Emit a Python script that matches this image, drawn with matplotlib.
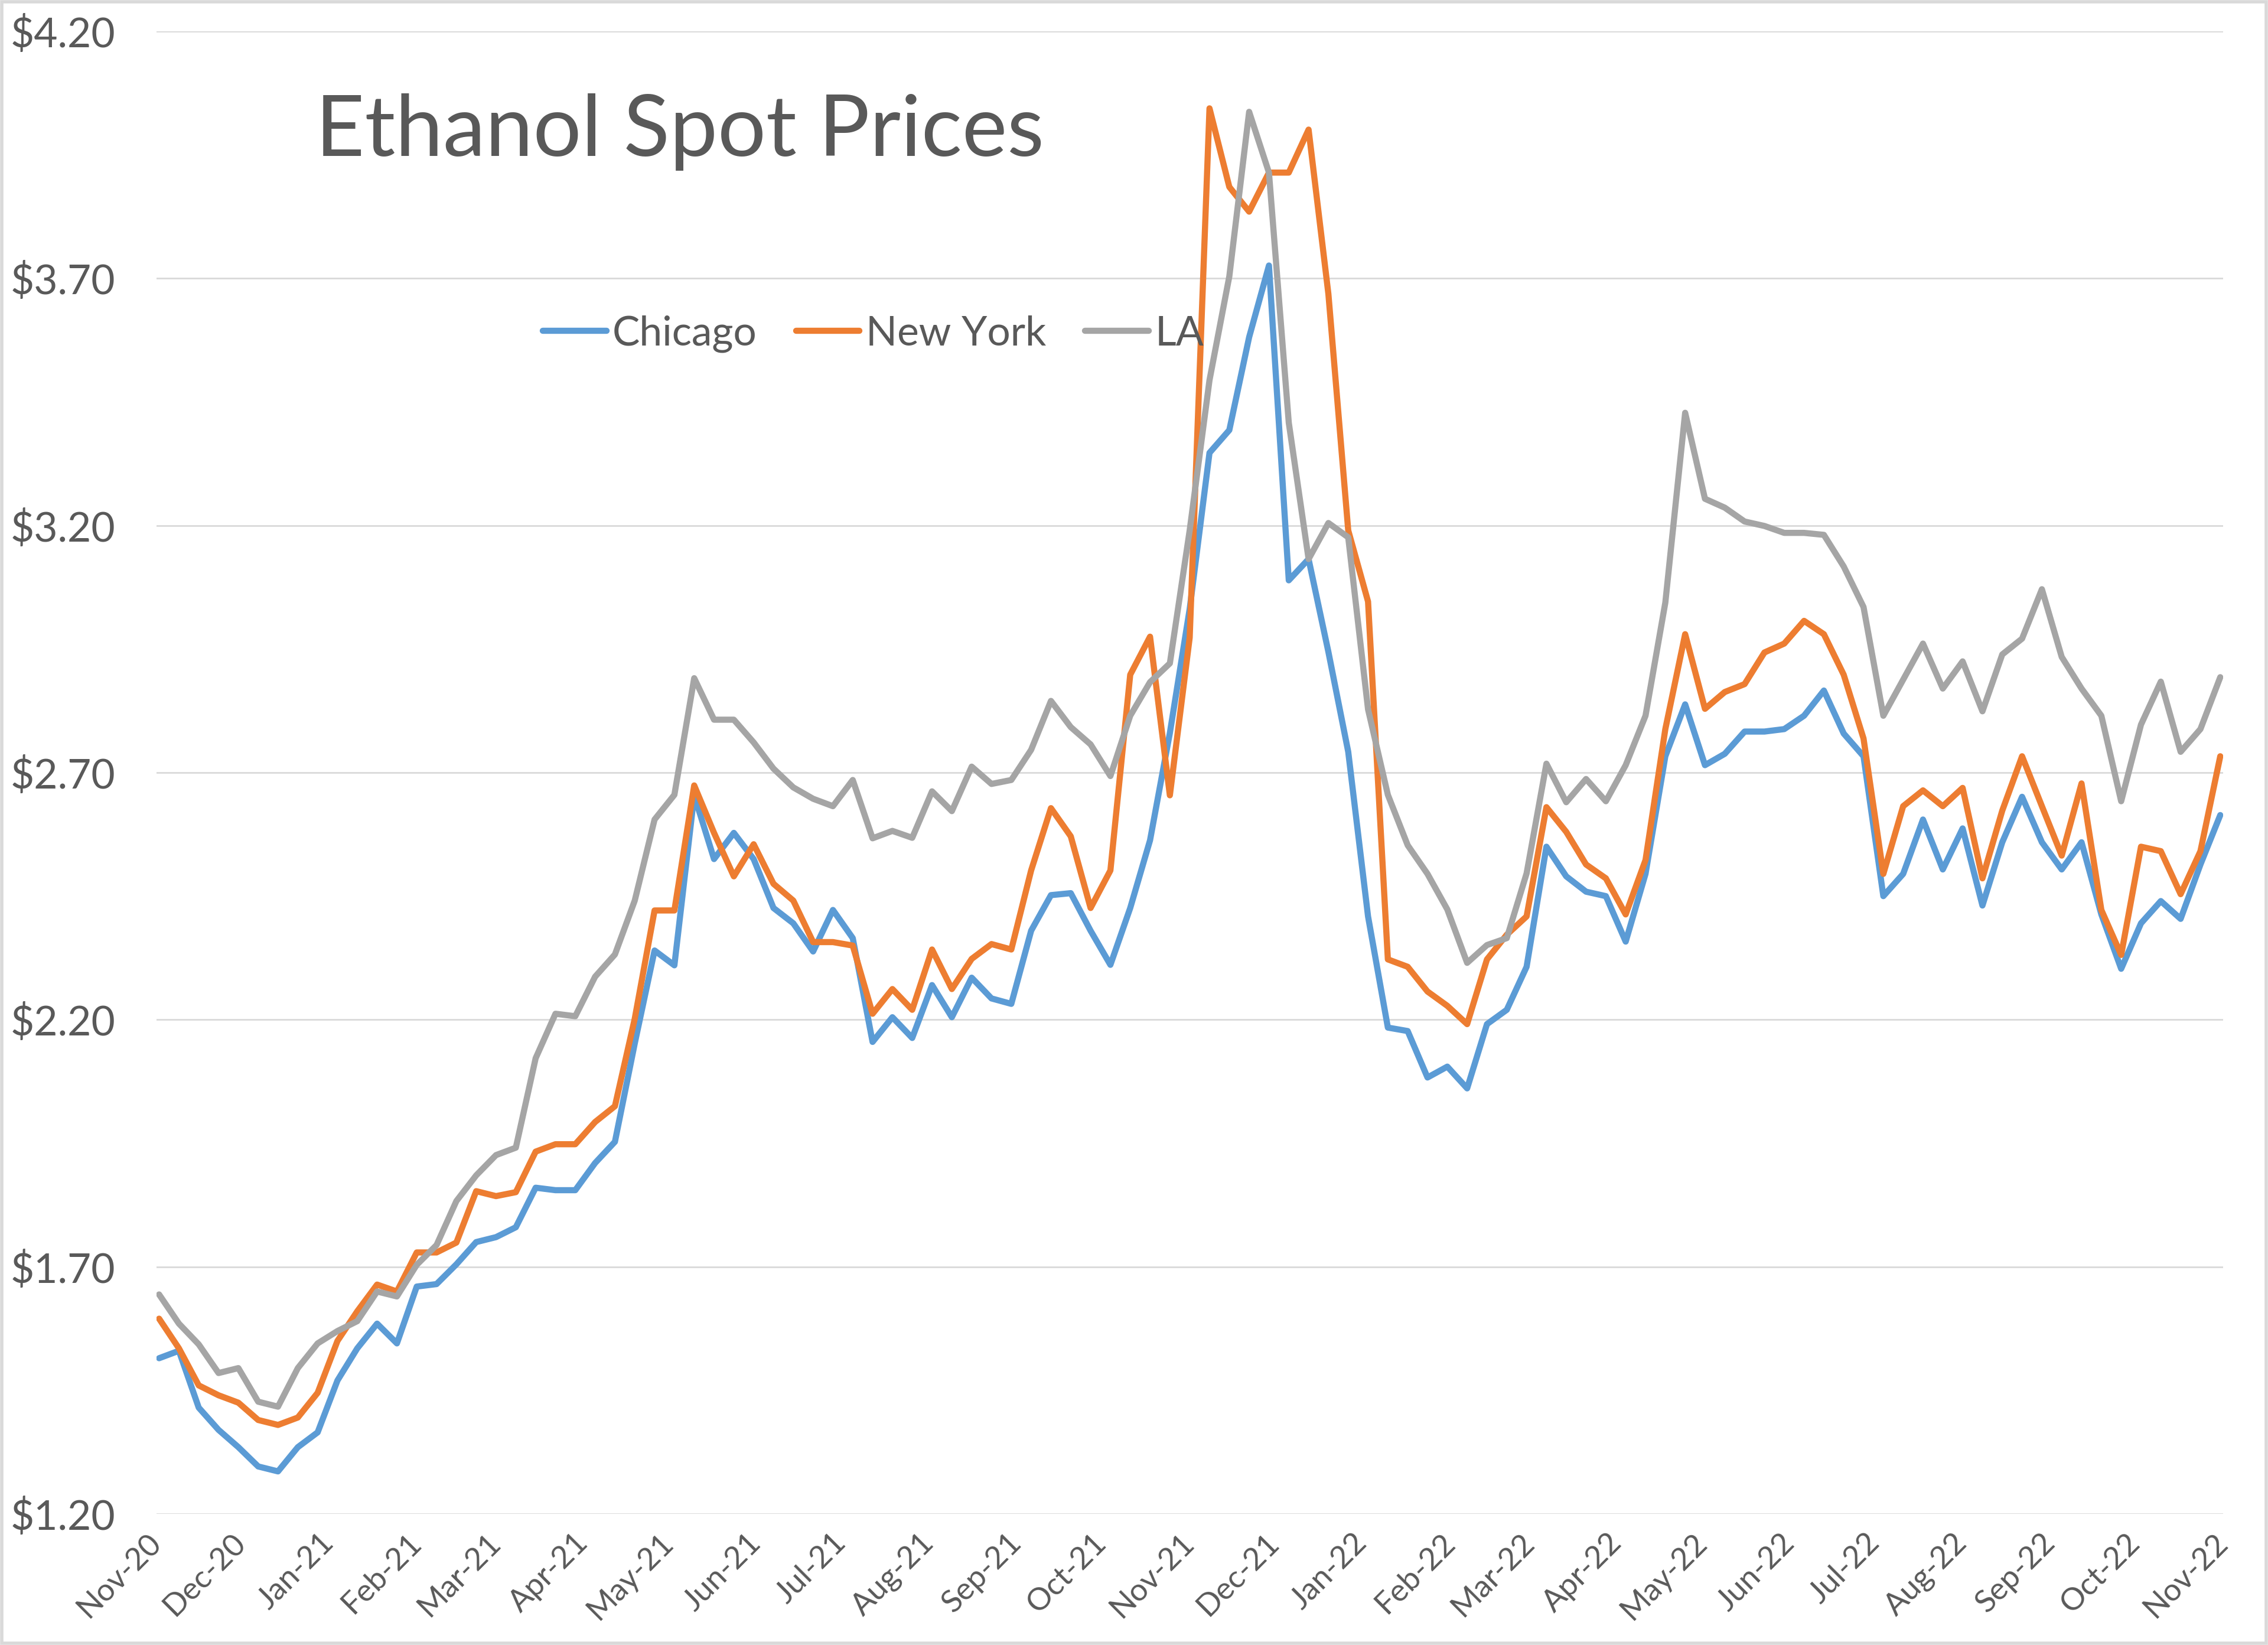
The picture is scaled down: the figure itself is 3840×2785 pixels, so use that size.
import matplotlib
matplotlib.use("Agg")
import matplotlib.pyplot as plt
import matplotlib.dates as mdates
from matplotlib.ticker import FuncFormatter
from matplotlib.patches import Rectangle
import pandas as pd

# ---------------- data (weekly readings) ----------------
start_date = "2020-11-02"
n_weeks = 105

chicago = [1.515, 1.53, 1.415, 1.37, 1.335, 1.296, 1.286, 1.335, 1.365, 1.47,
           1.535, 1.585, 1.545, 1.66, 1.665, 1.705, 1.75, 1.76, 1.78, 1.86,
           1.855, 1.855, 1.91, 1.953, 2.152, 2.34, 2.31, 2.654, 2.525, 2.578,
           2.525, 2.426, 2.395, 2.338, 2.422, 2.365, 2.155, 2.205, 2.163, 2.27,
           2.205, 2.285, 2.243, 2.232, 2.38, 2.452, 2.456, 2.38, 2.311, 2.426,
           2.563, 2.78, 3.031, 3.347, 3.393, 3.581, 3.726, 3.089, 3.132, 2.944,
           2.742, 2.409, 2.184, 2.177, 2.083, 2.105, 2.061, 2.191, 2.22, 2.307,
           2.55, 2.49, 2.459, 2.45, 2.358, 2.495, 2.733, 2.838, 2.715, 2.738,
           2.783, 2.783, 2.788, 2.815, 2.866, 2.779, 2.733, 2.45, 2.495, 2.605,
           2.504, 2.587, 2.431, 2.559, 2.651, 2.559, 2.504, 2.559, 2.413, 2.303,
           2.395, 2.44, 2.404, 2.514, 2.614]

new_york = [1.595, 1.535, 1.46, 1.44, 1.425, 1.39, 1.38, 1.395, 1.445, 1.55,
            1.61, 1.664, 1.65, 1.729, 1.729, 1.749, 1.853, 1.843, 1.851, 1.933,
            1.948, 1.948, 1.993, 2.025, 2.202, 2.421, 2.421, 2.674, 2.578, 2.49,
            2.555, 2.475, 2.441, 2.357, 2.357, 2.35, 2.212, 2.262, 2.22, 2.342,
            2.262, 2.323, 2.353, 2.342, 2.502, 2.628, 2.571, 2.426, 2.502, 2.898,
            2.975, 2.654, 2.973, 4.044, 3.885, 3.835, 3.914, 3.914, 4.001, 3.668,
            3.19, 3.046, 2.322, 2.307, 2.257, 2.228, 2.191, 2.322, 2.372, 2.409,
            2.63, 2.58, 2.514, 2.486, 2.413, 2.523, 2.788, 2.98, 2.829, 2.863,
            2.879, 2.943, 2.961, 3.007, 2.98, 2.898, 2.769, 2.495, 2.632, 2.664,
            2.632, 2.669, 2.486, 2.623, 2.733, 2.632, 2.532, 2.678, 2.422, 2.331,
            2.55, 2.541, 2.454, 2.541, 2.733]

los_angeles = [1.644, 1.585, 1.543, 1.485, 1.495, 1.427, 1.417, 1.495, 1.545, 1.57,
               1.59, 1.65, 1.64, 1.704, 1.744, 1.833, 1.885, 1.926, 1.941, 2.122,
               2.212, 2.207, 2.287, 2.332, 2.441, 2.605, 2.655, 2.891, 2.807, 2.807,
               2.761, 2.708, 2.67, 2.647, 2.632, 2.685, 2.567, 2.582, 2.568, 2.662,
               2.622, 2.712, 2.677, 2.685, 2.746, 2.845, 2.792, 2.757, 2.693, 2.815,
               2.883, 2.921, 3.19, 3.494, 3.704, 4.037, 3.914, 3.408, 3.132, 3.205,
               3.176, 2.828, 2.655, 2.553, 2.495, 2.423, 2.315, 2.351, 2.365, 2.496,
               2.718, 2.64, 2.687, 2.642, 2.715, 2.815, 3.044, 3.428, 3.254, 3.236,
               3.208, 3.199, 3.185, 3.185, 3.181, 3.117, 3.035, 2.815, 2.888, 2.961,
               2.87, 2.925, 2.824, 2.939, 2.971, 3.071, 2.934, 2.87, 2.815, 2.642,
               2.797, 2.884, 2.742, 2.788, 2.893]

series_names = ["Chicago", "New York", "LA"]
y_ticks = [1.20, 1.70, 2.20, 2.70, 3.20, 3.70, 4.20]
title_text = "Ethanol Spot Prices"

# ---------------- figure ----------------
FONT = ["Lato", "DejaVu Sans"]
plt.rcParams["font.family"] = FONT
TEXT_COLOR = "#595959"
GRID_COLOR = "#D9D9D9"
colors = ["#5B9BD5", "#ED7D31", "#A5A5A5"]

dates = pd.date_range(start_date, periods=n_weeks, freq="7D")

fig = plt.figure(figsize=(38.4, 27.85), dpi=100)
ax = fig.add_axes([0.0689, 0.0797, 0.9113, 0.9013])

for vals, name, col in zip([chicago, new_york, los_angeles], series_names, colors):
    ax.plot(dates, vals, color=col, lw=7.5, label=name,
            solid_joinstyle="round", solid_capstyle="round")

ax.set_xlim(pd.Timestamp("2020-11-01"), pd.Timestamp("2022-11-01"))
ax.set_ylim(1.20, 4.20)
ax.set_yticks(y_ticks)
ax.yaxis.set_major_formatter(FuncFormatter(lambda v, p: f"${v:.2f}"))
ax.grid(axis="y", color=GRID_COLOR, lw=2.0)
ax.set_axisbelow(True)
for s in ax.spines.values():
    s.set_visible(False)

ax.xaxis.set_major_locator(mdates.MonthLocator())
ax.xaxis.set_major_formatter(mdates.DateFormatter("%b-%y"))
ax.tick_params(axis="y", length=0, labelsize=50, labelcolor=TEXT_COLOR, pad=50)
ax.tick_params(axis="x", length=0, labelsize=38, labelcolor=TEXT_COLOR, pad=30)
for lbl in ax.get_xticklabels():
    lbl.set_rotation(45)
    lbl.set_ha("right")
    lbl.set_va("center")
    lbl.set_rotation_mode("anchor")

# title
fig.text(534 / 3840, 1 - 264 / 2785, title_text, fontsize=104, color=TEXT_COLOR,
         ha="left", va="baseline")

# legend
fig.legend(loc="center", bbox_to_anchor=(0.385, 0.797), ncol=3, frameon=False,
           fontsize=50, labelcolor=TEXT_COLOR, handlelength=1.55,
           handletextpad=0.15, columnspacing=0.95)

# chart border
fig.patches.append(Rectangle((0.0008, 0.001), 0.9984, 0.998, transform=fig.transFigure,
                             fill=False, edgecolor=GRID_COLOR, lw=4))

fig.savefig("out.png", dpi=100, facecolor="white")
